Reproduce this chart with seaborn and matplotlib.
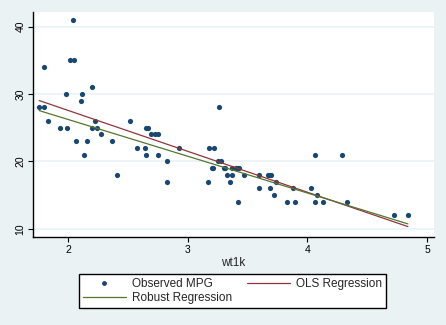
import numpy as np
import pandas as pd
import matplotlib
matplotlib.use("Agg")
import matplotlib.pyplot as plt
import seaborn as sns
from matplotlib.lines import Line2D

# Auto data: weight (1000 lbs) and mpg
wt1k = [2.93, 3.35, 2.64, 3.25, 4.08, 3.67, 2.23, 3.28, 3.88, 3.40,
        4.33, 3.90, 4.29, 2.11, 3.69, 3.18, 3.22, 2.75, 3.43, 2.12,
        3.60, 3.60, 3.74, 1.80, 2.65, 4.84, 4.72, 3.83, 2.58, 4.06,
        3.72, 3.37, 4.13, 2.83, 4.06, 3.31, 3.30, 3.69, 3.37, 2.73,
        4.03, 3.26, 1.80, 2.20, 2.52, 3.33, 3.70, 3.47, 3.21, 3.20,
        3.42, 2.69, 2.83, 2.07, 2.65, 2.37, 2.02, 2.28, 2.75, 2.13,
        2.24, 1.76, 1.98, 3.42, 1.83, 2.05, 2.41, 2.20, 2.67, 2.16,
        2.04, 1.93, 1.99, 3.17]
mpg = [22, 17, 22, 20, 15, 18, 26, 20, 16, 19,
       14, 14, 21, 29, 16, 22, 22, 24, 19, 30,
       18, 16, 17, 28, 21, 12, 12, 14, 22, 14,
       15, 18, 14, 20, 21, 19, 19, 18, 19, 24,
       16, 28, 34, 25, 26, 18, 18, 18, 19, 19,
       19, 24, 17, 23, 25, 23, 35, 24, 21, 21,
       25, 28, 30, 14, 26, 35, 18, 31, 25, 23,
       41, 25, 25, 17]

x_ticks = [2, 3, 4, 5]
y_ticks = [10, 20, 30, 40]

x = np.array(wt1k)
y = np.array(mpg, dtype=float)
X = np.column_stack([np.ones_like(x), x])

# OLS
b_ols = np.linalg.lstsq(X, y, rcond=None)[0]

# Robust regression (Huber then biweight IRLS, as in Stata rreg)
def wls(w):
    W = np.sqrt(w)
    return np.linalg.lstsq(X * W[:, None], y * W, rcond=None)[0]

def scale(r):
    return np.median(np.abs(r - np.median(r))) / 0.6745

b = b_ols.copy()
w = np.ones_like(y)
for _ in range(100):
    r = y - X @ b
    u = r / scale(r)
    c = 1.345
    wn = np.where(np.abs(u) <= c, 1.0, c / np.abs(u))
    b = wls(wn)
    if np.max(np.abs(wn - w)) < 0.01:
        w = wn
        break
    w = wn
for _ in range(100):
    r = y - X @ b
    u = r / scale(r)
    c = 4.685
    wn = np.where(np.abs(u) <= c, (1 - (u / c) ** 2) ** 2, 0.0)
    b = wls(wn)
    if np.max(np.abs(wn - w)) < 0.01:
        w = wn
        break
    w = wn
b_rob = b

df = pd.DataFrame({"wt1k": x, "mpg": y,
                   "ols": X @ b_ols, "rob": X @ b_rob}).sort_values("wt1k")

sns.set_theme(style="white")
plt.rcParams["font.family"] = ["Liberation Sans", "DejaVu Sans"]

bg = "#EAF2F3"
navy = "#1A476F"
maroon = "#90353B"
green = "#55752F"

fig = plt.figure(figsize=(4.46, 3.25), dpi=100, facecolor=bg)
ax = fig.add_axes([33 / 446, 88 / 325, 401 / 446, 225 / 325])
ax.set_facecolor("white")

for t in y_ticks:
    ax.axhline(t, color=bg, lw=1.2, zorder=0)

sns.scatterplot(data=df, x="wt1k", y="mpg", ax=ax, color=navy, s=14,
                linewidth=0, zorder=3)
sns.lineplot(data=df, x="wt1k", y="ols", ax=ax, color=maroon, lw=0.9,
             estimator=None, sort=True, zorder=4)
sns.lineplot(data=df, x="wt1k", y="rob", ax=ax, color=green, lw=0.9,
             estimator=None, sort=True, zorder=4)

ax.set_xlim(1.708, 5.058)
ax.set_ylim(8.81, 42.15)
ax.set_xticks(x_ticks)
ax.set_yticks(y_ticks)
ax.set_xticklabels([str(v) for v in x_ticks], fontsize=7.5)
ax.set_yticklabels([str(v) for v in y_ticks], fontsize=7.5, rotation=90,
                   va="center")
ax.set_xlabel("wt1k", fontsize=8.5, labelpad=2)
ax.set_ylabel("")
for s in ["top", "right"]:
    ax.spines[s].set_visible(False)
for s in ["left", "bottom"]:
    ax.spines[s].set_color("black")
    ax.spines[s].set_linewidth(1.0)
ax.tick_params(axis="both", which="both", direction="out", length=3.5,
               width=0.8, color="black", pad=2, labelcolor="black",
               bottom=True, left=True)

handles = [
    Line2D([], [], ls="none", marker="o", ms=3.5, color=navy, mew=0),
    Line2D([], [], color=green, lw=0.9),
    Line2D([], [], color=maroon, lw=0.9),
]
labels = ["Observed MPG", "Robust Regression", "OLS Regression"]
leg = fig.legend(handles, labels, ncol=2, loc="center",
                 bbox_to_anchor=(79 / 446, 16 / 325, 307 / 446, 36 / 325),
                 mode="expand", fontsize=8.5, frameon=True, fancybox=False,
                 edgecolor="black", facecolor="white", framealpha=1,
                 handlelength=3.6, handletextpad=0.5, borderpad=0.35,
                 labelspacing=0.2, columnspacing=2.0, borderaxespad=0)
leg.get_frame().set_linewidth(1.0)

fig.savefig("out.png", dpi=100, facecolor=bg)
